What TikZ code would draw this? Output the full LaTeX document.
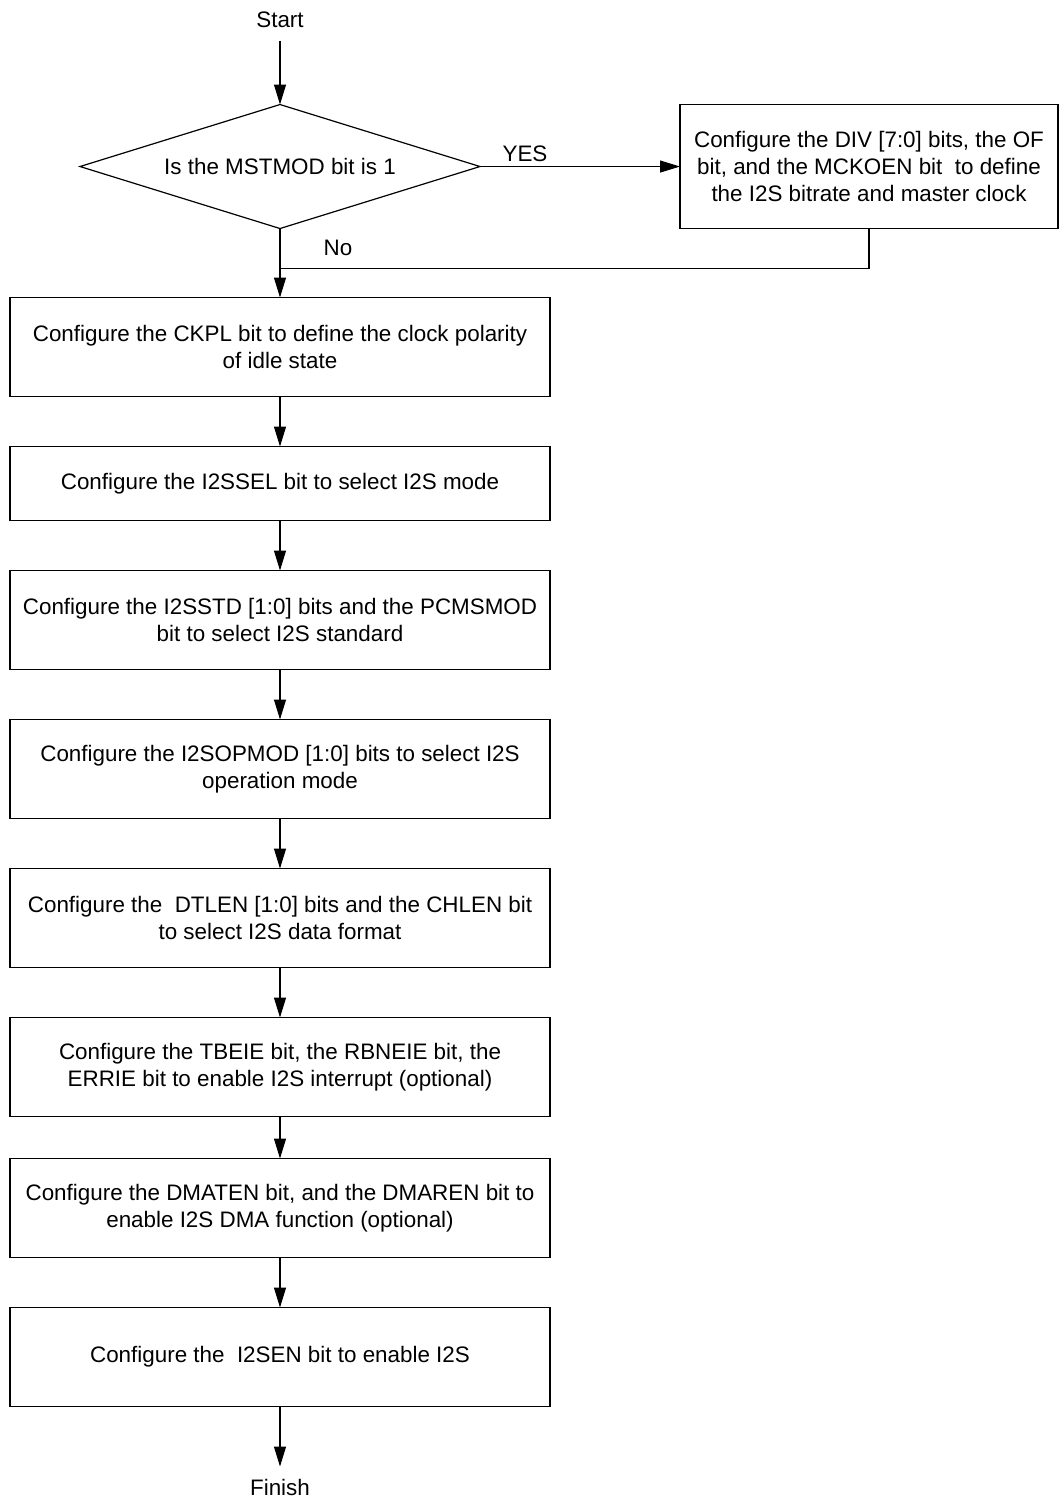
\documentclass[tikz,border=0pt]{standalone}
\usepackage{fontspec}
\setmainfont{Liberation Sans}
\usetikzlibrary{arrows.meta,positioning,shapes.geometric}

\begin{document}
\begin{tikzpicture}[
  x=0.5pt, y=-0.5pt,
  box/.style={draw, align=center, minimum width=270pt, minimum height=49.5pt, inner sep=2pt, outer sep=0pt},
  decision/.style={draw, diamond, aspect=3.2, minimum width=200pt, minimum height=62pt, inner sep=0pt, outer sep=0pt},
  term/.style={inner sep=6pt},
  arrow/.style={-{Triangle[length=10pt,width=6pt]}},
  every node/.style={font=\fontsize{11.2}{13.5}\selectfont},
  line width=0.6pt,
  node distance=25pt
]
\useasboundingbox (0,0) rectangle (1059,1499);

\node[term] (start) at (280,20) {Start};
\node[decision, below=32pt of start] (msttest) {Is the MSTMOD bit is 1};
\node[box, right=100pt of msttest, minimum width=189pt, minimum height=62pt] (mstcfg)
  {Configure the DIV [7:0] bits, the OF\\ bit, and the MCKOEN bit\ \ to define\\ the I2S bitrate and master clock};
\node[box, below=34.5pt of msttest] (ckpl) {Configure the CKPL bit to define the clock polarity\\ of idle state};
\node[box, below=of ckpl, minimum height=37pt] (i2ssel) {Configure the I2SSEL bit to select I2S mode};
\node[box, below=of i2ssel] (i2sstd) {Configure the I2SSTD [1:0] bits and the PCMSMOD\\ bit to select I2S standard};
\node[box, below=of i2sstd] (opmod) {Configure the I2SOPMOD [1:0] bits to select I2S\\ operation mode};
\node[box, below=of opmod] (dtlen) {Configure the\ \ DTLEN [1:0] bits and the CHLEN bit\\ to select I2S data format};
\node[box, below=of dtlen] (inten) {Configure the TBEIE bit, the RBNEIE bit, the\\ ERRIE bit to enable I2S interrupt (optional)};
\node[box, below=21pt of inten] (dmaen) {Configure the DMATEN bit, and the DMAREN bit to\\ enable I2S DMA function (optional)};
\node[box, below=25pt of dmaen] (i2sen) {Configure the\ \ I2SEN bit to enable I2S};
\node[term, below=30pt of i2sen] (finish) {Finish};

% branch labels
\node[anchor=south west, inner sep=2pt, xshift=9pt] (yes) at (msttest.east) {YES};
\node[anchor=north west, inner sep=2pt, xshift=19.5pt, yshift=-3.5pt] (no) at (msttest.south) {No};

\coordinate[below=20pt of msttest.south] (merge);

\draw[arrow] (start) -- (msttest);
\draw[arrow] (msttest) -- (mstcfg);
\draw (mstcfg.south) |- (merge);
\draw[arrow] (msttest) -- (ckpl);
\draw[arrow] (ckpl) -- (i2ssel);
\draw[arrow] (i2ssel) -- (i2sstd);
\draw[arrow] (i2sstd) -- (opmod);
\draw[arrow] (opmod) -- (dtlen);
\draw[arrow] (dtlen) -- (inten);
\draw[arrow] (inten) -- (dmaen);
\draw[arrow] (dmaen) -- (i2sen);
\draw[arrow] (i2sen) -- (finish);

\end{tikzpicture}
\end{document}
